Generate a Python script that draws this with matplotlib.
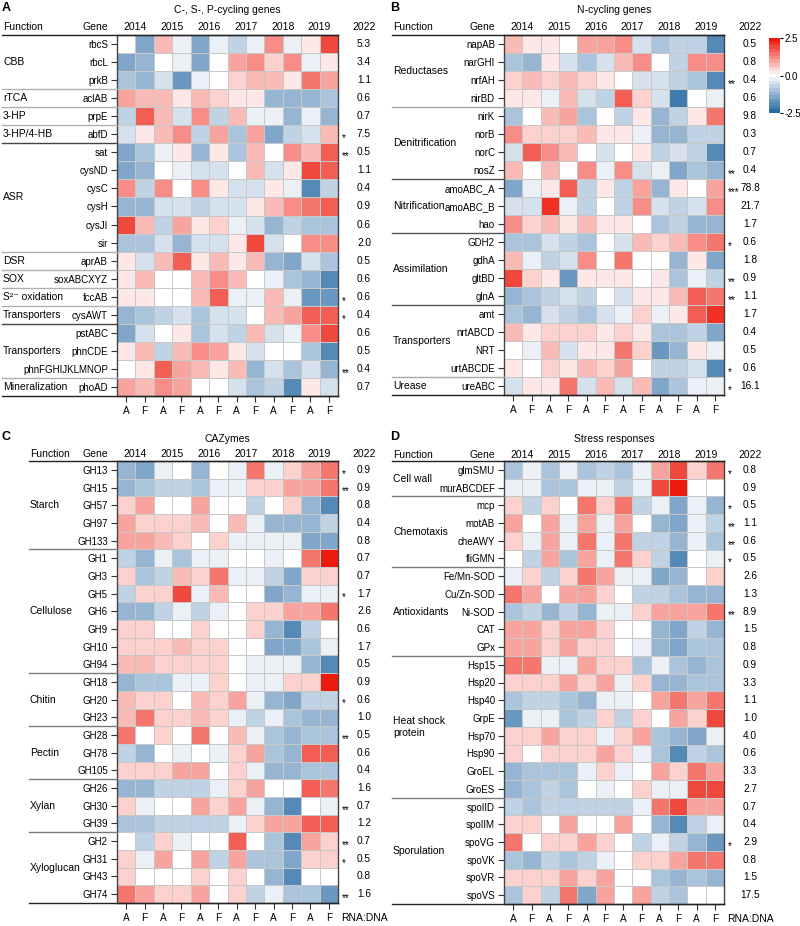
import numpy as np
import matplotlib.pyplot as plt
from matplotlib.colors import LinearSegmentedColormap, Normalize
from matplotlib.lines import Line2D
from matplotlib.transforms import blended_transform_factory

plt.rcParams['font.family'] = ['Liberation Sans', 'DejaVu Sans']

W, H = 800, 926
years = ['2014', '2015', '2016', '2017', '2018', '2019']
sites = ['A', 'F'] * 6

# ---- panel A: C-, S-, P-cycling genes
a_genes = ['rbcS', 'rbcL', 'prkB', 'aclAB', 'prpE', 'abfD', 'sat', 'cysND', 'cysC', 'cysH',
           'cysJI', 'sir', 'aprAB', 'soxABCXYZ', 'fccAB', 'cysAWT', 'pstABC', 'phnCDE',
           'phnFGHIJKLMNOP', 'phoAD']
a_funcs = [('CBB', 3), ('rTCA', 1), ('3-HP', 1), ('3-HP/4-HB', 1), ('ASR', 6), ('DSR', 1),
           ('SOX', 1), ('S²⁻ oxidation', 1), ('Transporters', 1), ('Transporters', 3),
           ('Mineralization', 1)]
a_major = [6, 16]
a_vals = [
    [0, -1.5, 0.6, -0.3, -1.4, -0.3, -0.8, -0.3, 1.2, -0.3, 0.3, 1.9],
    [-1.4, -1.2, 0, -0.3, -1.4, 0, 0.9, 1.2, 0.4, 1.2, -0.3, 0.3],
    [-0.9, -1.1, -0.5, -1.6, -0.3, 0, 0.4, 0.6, 0.6, 0.3, 1.5, 0.9],
    [0.9, 0.6, 0.6, 0.3, 0.8, 0.5, 0.3, 0.3, -1.1, -1.1, -1.1, -1.0],
    [-0.8, 1.6, 0.6, -0.5, 1.1, -0.7, 0.8, -0.3, -0.3, -1.1, -0.3, -1.3],
    [-0.5, 0.3, 0.6, 1.2, -0.7, 0.9, -1.0, 0.9, -1.4, -0.8, -0.5, 0.8],
    [-1.4, -1.0, -0.3, 0.3, -1.1, 0.3, -0.9, 0.6, 0, 1.2, 0.6, 1.6],
    [-1.4, -1.1, 0, -0.3, -0.5, -0.5, 0, 0.6, -0.5, 0.3, 1.9, 1.6],
    [1.2, -0.7, 1.2, 0, 1.1, 0.3, -0.5, -0.5, 0.3, -0.3, -1.8, -0.7],
    [-1.1, -1.1, -0.5, -0.5, -0.8, -0.5, -0.5, 0.3, 0.6, 1.1, 1.5, 1.6],
    [1.8, 0.8, -0.7, 1.0, 0.3, 0.5, -0.3, -0.5, -1.3, -0.7, -1.0, -1.0],
    [-0.9, -0.9, -0.5, -1.1, -0.5, -0.5, 0.3, 1.9, -0.5, 0, 1.2, 1.1],
    [0.3, -0.5, 0.6, 1.6, 0.3, 0.8, 0.3, 0.6, -1.1, -1.5, -0.5, -0.9],
    [0.3, 0.6, 0, 0, 0.8, 1.1, 0.6, 0, -0.3, -1.0, -1.2, -1.8],
    [0.3, 0.3, 0, 0, 0.6, 1.6, -0.3, -0.3, 0.6, -0.3, -1.6, -1.7],
    [-1.1, -0.9, -0.7, -0.5, -0.9, -0.5, -0.5, 0, 0.6, 0.9, 1.6, 1.6],
    [-1.4, -0.5, 0, 0.3, -0.9, -0.5, -0.8, 0.6, -0.5, -0.3, 1.2, 1.9],
    [0.3, 0.6, -0.7, 0.6, 1.1, 0.9, 0.3, -0.5, 0, 0, -0.9, -2.0],
    [0, 0.3, 1.6, 0.9, 0.6, 0.3, 0.6, -1.1, -0.5, -1.0, -0.5, -1.3],
    [0.9, 0.6, 1.2, 0.9, 0, 0, -0.5, -0.9, -0.8, -2.0, 0.3, -0.5],
]
a_ratio = ['5.3', '3.4', '1.1', '0.6', '0.7', '7.5', '0.5', '1.1', '0.4', '0.9',
           '0.6', '2.0', '0.5', '0.6', '0.6', '0.4', '0.6', '0.5', '0.4', '0.7']
a_stars = ['', '', '', '', '', '*', '**', '', '', '', '', '', '', '', '*', '*', '', '', '**', '']

# ---- panel B: N-cycling genes
b_genes = ['napAB', 'narGHI', 'nrfAH', 'nirBD', 'nirK', 'norB', 'norC', 'nosZ', 'amoABC_A',
           'amoABC_B', 'hao', 'GDH2', 'gdhA', 'gltBD', 'glnA', 'amt', 'nrtABCD', 'NRT',
           'urtABCDE', 'ureABC']
b_funcs = [('Reductases', 4), ('Denitrification', 4), ('Nitrification', 3),
           ('Assimilation', 4), ('Transporters', 4), ('Urease', 1)]
b_major = [8, 11, 15]
b_vals = [
    [0.6, 0.3, 0.3, 0, 0.9, 0.9, 1.1, -0.5, -0.9, -0.7, -0.7, -2.0],
    [-0.9, -1.2, 0.3, -0.5, -1.0, -0.5, 0.8, 1.1, 0, -0.6, 1.2, 1.1],
    [0.5, 0.8, 0.5, 0.8, 0.5, 0.3, 0, -0.5, -0.5, -0.7, -0.9, -2.0],
    [0.3, 0.3, -0.3, 0.8, -0.5, -0.7, 1.6, 0.5, -0.5, -2.2, 0, -0.3],
    [-1.0, 0, 0.8, 1.0, -0.9, 0, -0.6, 0.3, -1.3, -0.6, 0.3, 1.5],
    [1.2, 0.5, 0.5, 0.5, 0.8, 0.3, 0.3, -0.3, -1.3, -1.2, -0.8, -0.8],
    [-0.5, 1.6, 1.1, 0.8, 0, -0.5, 0, 0.3, -0.7, -0.5, -0.7, -1.8],
    [0.8, 0, 0.8, 0, 1.1, -0.3, 1.1, -0.5, -0.3, -1.5, -0.9, -1.1],
    [-1.4, -0.3, 0.3, 1.6, -0.8, 0.3, -0.8, 0.9, -1.1, 0.3, 0, 0.9],
    [-0.5, -0.5, 2.2, -0.3, -0.7, 0, -0.7, 1.1, -0.5, -0.8, -0.5, 1.1],
    [1.1, 0.5, 0.8, 0.3, 0.8, 0.3, 0.3, 0, -1.0, -0.7, -1.2, -1.2],
    [-1.0, -1.0, -0.5, -0.6, -1.0, 0, -0.5, 0.8, 0.5, 0.8, 1.1, 1.5],
    [0.8, -0.3, -0.6, -0.5, 1.1, 0, 1.5, 0, 0, -1.2, 0.3, -1.4],
    [1.9, 0.5, 0.3, -1.7, 0.3, 0.3, 0.3, 0, 0.3, -1.0, -0.3, -0.8],
    [-1.3, -1.0, -0.6, -0.5, -0.6, 0, -0.5, 0.3, 0.3, 0.8, 1.6, 1.5],
    [-0.9, -1.1, -0.5, -0.6, -0.9, -0.5, -0.3, 0.5, -0.3, 0.3, 1.6, 2.2],
    [0.8, 0.3, 0.5, 0.5, 0.5, 0.3, 0.5, 0.3, -0.9, -0.9, -0.7, -1.5],
    [0, -0.3, 0.8, -0.5, 0.3, 0.3, 1.5, 0.5, -1.6, -1.2, 0.3, -0.3],
    [0.3, 0, 0.5, 0.3, 0.8, 0.5, 1.0, 0, -0.7, -0.8, -0.5, -2.0],
    [-0.5, 0.3, 0.3, 1.5, -0.5, 0.8, -0.5, 0.8, -1.4, -1.0, -0.3, -0.3],
]
b_ratio = ['0.5', '0.8', '0.4', '0.6', '9.8', '0.3', '0.7', '0.4', '78.8', '21.7',
           '1.7', '0.6', '1.8', '0.9', '1.1', '1.7', '0.4', '0.5', '0.6', '16.1']
b_stars = ['', '', '**', '', '', '', '', '**', '***', '', '', '*', '', '**', '**', '', '', '', '*', '*']

# ---- panel C: CAZymes
c_genes = ['GH13', 'GH15', 'GH57', 'GH97', 'GH133', 'GH1', 'GH3', 'GH5', 'GH6', 'GH9', 'GH10',
           'GH94', 'GH18', 'GH20', 'GH23', 'GH28', 'GH78', 'GH105', 'GH26', 'GH30', 'GH39',
           'GH2', 'GH31', 'GH43', 'GH74']
c_funcs = [('Starch', 5), ('Cellulose', 7), ('Chitin', 3), ('Pectin', 3), ('Xylan', 3),
           ('Xyloglucan', 4)]
c_vals = [
    [-1.3, -1.4, -0.3, 0, -1.3, 0, -0.3, 1.5, -0.3, 0.5, 1.0, 1.5],
    [-1.3, -1.0, -0.6, -0.6, -0.9, -0.3, -0.3, 0.5, 0.5, 0.9, 1.0, 1.5],
    [0.5, 0.9, 0, 0, 0.9, 0, 0, -0.6, 0, 0.5, -1.2, -2.0],
    [0.9, 0.5, 0.5, 0.5, 0.8, 0, 0.8, -0.3, -1.2, -1.2, -1.2, -0.6],
    [0.9, 0.9, 0.8, 0.5, 0, 0.5, -0.3, -0.3, -0.3, -0.3, -1.5, -1.5],
    [-0.6, -1.3, -0.3, -0.9, -0.3, -0.3, 0, 0, -0.3, 0, 1.5, 2.5],
    [0.5, -0.9, -0.6, 0.8, 0.5, 1.5, -0.3, -0.3, -0.6, -1.5, 0.5, 0.5],
    [-0.6, 0.5, 0.5, 1.9, -0.3, 0.8, 0, 0, -1.5, -1.2, -0.3, -0.3],
    [-1.3, -1.3, -0.6, -0.3, -0.6, -0.3, 0, 0.5, 0.5, 0.9, 1.0, 1.5],
    [0.5, 0.5, 0, 0, 0.5, 0, 0, 0.5, -1.2, -2.0, -0.6, 0],
    [0.5, 0.5, 0.5, 0.8, 0.5, 0.5, 0, 0, -1.5, -1.4, -0.9, -0.3],
    [0.8, 0.8, 0.5, 0.5, 0.5, 0.5, 0, -0.3, -0.3, -0.3, -1.2, -2.0],
    [-1.2, -0.9, -0.9, -0.3, -0.3, 0.5, 0, -0.3, -0.3, 0.5, 0.5, 2.5],
    [0.8, 0.5, 0.5, 0, 0.8, 0.5, 0.9, -0.3, -1.2, -1.5, -0.6, -0.6],
    [0.8, 1.5, 0.5, 0.5, 0.8, 0.5, -0.3, -0.6, -0.3, -0.9, -1.3, -1.2],
    [1.5, 0, 0.5, 0, 1.5, 0, 0.8, -0.3, -0.9, -1.2, -0.9, -0.9],
    [-0.6, -1.3, 0, -0.3, 0, -0.3, 0.5, 0.9, -0.9, -1.2, 1.6, 1.6],
    [0.5, 0.5, 0.5, 0.9, 0.9, 0, 0.5, -0.3, -1.3, -1.2, -0.9, -0.9],
    [-1.3, -1.3, -0.6, -0.6, -0.6, -0.3, 0.5, 0.9, 0, 0, 1.6, 1.5],
    [0.5, -0.3, 0, 0, 0.9, 0.5, 0.9, -0.3, -1.2, -2.0, 0, -0.3],
    [-0.9, -0.9, -0.6, -0.6, -0.8, -0.6, -0.3, 0.5, 0.9, 0.9, 1.6, 1.6],
    [0, -0.6, 0.5, -0.3, 0, 0, 1.6, 0, -0.9, -2.0, 0.9, 0.5],
    [0.5, -0.3, 0.9, 0, 0.9, -0.6, 0.9, -0.9, -0.9, -1.4, 0.5, 0.5],
    [0.5, 0, 0, 0, 0.5, 0, 0.5, 0, -1.2, -2.0, 0, 0],
    [1.5, 0.9, 0.5, 0.5, 0.9, 0, 0.5, -0.6, -0.3, -0.9, -0.9, -1.6],
]
c_ratio = ['0.9', '0.9', '0.8', '0.4', '0.8', '0.7', '0.7', '1.7', '2.6', '0.6', '1.7', '0.5',
           '0.9', '0.6', '1.0', '0.5', '0.6', '0.4', '1.6', '0.7', '1.2', '0.7', '0.5', '0.8', '1.6']
c_stars = ['*', '**', '', '', '', '', '', '*', '', '', '', '', '', '*', '', '**', '', '',
           '', '**', '', '**', '*', '', '**']

# ---- panel D: stress responses
d_genes = ['glmSMU', 'murABCDEF', 'mcp', 'motAB', 'cheAWY', 'fliGMN', 'Fe/Mn-SOD', 'Cu/Zn-SOD',
           'Ni-SOD', 'CAT', 'GPx', 'Hsp15', 'Hsp20', 'Hsp40', 'GrpE', 'Hsp70', 'Hsp90', 'GroEL',
           'GroES', 'spoIID', 'spoIIM', 'spoVG', 'spoVK', 'spoVR', 'spoVS']
d_funcs = [('Cell wall', 2), ('Chemotaxis', 4), ('Antioxidants', 5),
           ('Heat shock\nprotein', 8), ('Sporulation', 6)]
d_vals = [
    [-1.0, -0.3, -1.0, -0.3, -0.9, -0.6, -0.9, -0.3, 0.9, 1.9, 0.5, 1.5],
    [-0.3, -0.3, -0.9, -0.9, -0.3, -0.3, -0.6, -0.3, 1.9, 2.5, 0, 0],
    [0.5, -0.6, 0.5, 0, 1.4, 0.5, 1.4, -0.6, -0.3, -1.5, -0.3, -1.2],
    [0.9, 0, 0.9, -0.3, 0.9, -0.3, 0.9, 0, -1.2, -1.5, -0.3, -0.6],
    [0.5, -0.3, 0.9, -0.3, 1.4, -0.3, 1.4, -0.6, -0.6, -1.2, -0.3, -0.9],
    [0, -0.6, 0.9, -0.9, 0.9, -0.3, 1.4, 0.5, -0.6, -2.0, 0, -0.3],
    [-0.3, 0.5, -0.6, 0.5, 1.4, 0.9, -0.3, -0.3, -1.5, -1.2, 0, 0.5],
    [1.4, 0.9, 0, 0.9, 0.9, 0.5, 0, -0.6, -0.6, -0.9, -1.2, -1.2],
    [-0.9, -0.6, -1.2, -0.6, -1.2, -0.3, -0.3, 0.5, 0.9, 0.9, 0.9, 1.4],
    [0.9, 0.9, 0.5, 0.9, 0.9, 0.5, 0, 0, -1.3, -1.5, -0.6, -1.2],
    [0.9, 0.9, 0.5, 0.9, 0.5, 0.5, 0, -0.3, -1.3, -1.5, -0.9, -0.9],
    [1.4, 1.4, -0.3, -0.3, 0.9, 0.5, 0.5, -0.9, -0.3, -0.9, -1.2, -0.9],
    [0.5, 0.5, 0.5, 0.9, 0.5, 0.9, -0.3, 0.5, -1.3, -1.2, -0.9, -0.9],
    [-0.9, -0.6, -0.6, -0.9, -1.2, -0.3, -0.3, 0, 0.9, 1.4, 0.9, 1.4],
    [-1.6, -0.3, -0.3, -0.9, -0.6, 0.5, -0.6, 0.5, 0, 0.9, 0.5, 1.9],
    [0.5, 0.5, 0.9, 0.5, 0.5, -0.3, 0.5, 0.9, -0.9, -1.2, -1.5, -0.3],
    [0.5, 0, 0.5, 0.5, 0.5, 0.9, 0.5, -0.3, -0.9, -2.0, -0.6, -0.9],
    [-1.3, -0.9, -0.9, -0.9, -0.3, 0.5, -0.3, 0, 0.9, 0.5, 1.4, 0.9],
    [-1.3, -0.9, -0.6, -0.9, 0, -0.3, 0, 0.5, -0.3, -0.3, 1.9, 1.9],
    [-0.6, -0.9, -0.6, -0.6, -0.6, -0.6, -0.6, -0.3, 1.4, 1.9, 0.9, 0.9],
    [0.5, 0.5, 0, 0.9, 0, 0, 0.9, 0, -1.3, -2.0, -0.6, -0.3],
    [1.5, 0, 0.5, 0.5, 0.9, 0.5, 0, -0.6, -0.3, -0.6, -1.3, -1.6],
    [-0.9, -1.3, -0.6, -0.9, -0.6, -0.3, 0, 0.5, 0.5, 0.9, 1.4, 1.4],
    [0.5, 0.5, 0.5, 0.9, 0.5, 0.9, 0, 0, -0.9, -1.2, -0.9, -1.2],
    [-0.9, 0.5, -0.6, 1.4, -1.5, 0.9, 0, 0.9, -0.6, -0.9, 0, 0],
]
d_ratio = ['0.8', '0.9', '0.5', '1.1', '0.6', '0.5', '2.6', '1.3', '8.9', '1.5', '0.8', '0.9',
           '3.3', '1.1', '1.0', '4.0', '0.6', '3.3', '2.7', '0.7', '0.4', '2.9', '0.8', '1.5', '17.5']
d_stars = ['*', '', '*', '**', '**', '*', '', '', '**', '', '', '', '', '', '', '', '', '', '',
           '', '', '*', '', '', '']

cmap = LinearSegmentedColormap.from_list('rwb', ['#2b6ca5', '#ffffff', '#ee1a0c'], N=21)
norm = Normalize(-2.5, 2.5)

fig = plt.figure(figsize=(W / 100, H / 100), dpi=100)


def fx(x):
    return x / W


def fy(y):
    return 1 - y / H


def hline(x0, x1, y, color, lw=1.0):
    fig.add_artist(Line2D([fx(x0), fx(x1)], [fy(y), fy(y)], transform=fig.transFigure,
                          color=color, lw=lw))


def draw_panel(letter, title, box, left0, genes, funcs, vals, ratio, stars, major,
               minor_col, major_col, title_y, head_y, bottom_label):
    x0, x1, y0, y1 = box
    n = len(genes)
    rowh = (y1 - y0) / n
    ax = fig.add_axes([fx(x0), fy(y1), (x1 - x0) / W, (y1 - y0) / H])
    mesh = ax.pcolormesh(np.arange(13), np.arange(n + 1), np.array(vals), cmap=cmap, norm=norm,
                         edgecolors='#c8c8c8', linewidth=0.6)
    ax.set_xlim(0, 12)
    ax.set_ylim(n, 0)
    ax.set_yticks(np.arange(n) + 0.5)
    ax.set_yticklabels(genes, fontsize=7)
    ax.set_xticks(np.arange(12) + 0.5)
    ax.set_xticklabels(sites, fontsize=7.3)
    ax.tick_params(axis='y', length=4, width=0.8, pad=2.5, color='#333333')
    ax.tick_params(axis='x', length=4, width=0.8, pad=3, color='#333333')
    for s in ax.spines.values():
        s.set_color('#444444')
        s.set_linewidth(1.0)

    # letter, title and header row
    lx = 2 if letter in 'AC' else 390
    fig.text(fx(lx), fy(title_y - 2), letter, fontsize=9, fontweight='bold',
             ha='left', va='center')
    fig.text(fx((x0 + x1) / 2), fy(title_y), title, fontsize=7.5, ha='center', va='center')
    fig.text(fx(left0 + 1), fy(head_y), 'Function', fontsize=7.5, ha='left', va='center')
    fig.text(fx(x0 - 9), fy(head_y), 'Gene', fontsize=7.5, ha='right', va='center')
    colw = (x1 - x0) / 12
    for i, yr in enumerate(years):
        fig.text(fx(x0 + colw * (2 * i + 1)), fy(head_y), yr, fontsize=7.5,
                 ha='center', va='center')
    num_x = x1 + 26
    fig.text(fx(num_x), fy(head_y), '2022', fontsize=7.5, ha='center', va='center')
    if bottom_label:
        fig.text(fx(num_x), fy(y1 + 15), 'RNA:DNA', fontsize=7.5, ha='center', va='center')

    tr = blended_transform_factory(fig.transFigure, ax.transData)
    for i in range(n):
        ax.text(fx(num_x), i + 0.5, ratio[i], transform=tr, fontsize=7.3, ha='center',
                va='center', clip_on=False)
        if stars[i]:
            ax.text(fx(x1 + 4), i + 0.72, stars[i], transform=tr, fontsize=7.3, ha='left',
                    va='center', clip_on=False)

    # function labels and separators
    start = 0
    for name, cnt in funcs:
        ax.text(fx(left0 + 1), start + cnt / 2, name, transform=tr, fontsize=7.5, ha='left',
                va='center', clip_on=False, linespacing=1.3)
        start += cnt
        if start < n:
            col = major_col if start in major else minor_col
            hline(left0, x0, y0 + start * rowh, col, lw=1.0)
    hline(left0, x1, y0, '#222222', lw=1.0)
    hline(left0, x1, y1, '#222222', lw=1.0)
    return mesh


mesh = draw_panel('A', 'C-, S-, P-cycling genes', (117, 338, 35, 396), 2, a_genes, a_funcs,
                  a_vals, a_ratio, a_stars, a_major, '#b0b0b0', '#444444', 10, 27, False)
draw_panel('B', 'N-cycling genes', (504, 724, 35, 395), 392, b_genes, b_funcs, b_vals, b_ratio,
           b_stars, b_major, '#a8a8a8', '#555555', 10, 27, False)
draw_panel('C', 'CAZymes', (117, 338, 461, 903), 29, c_genes, c_funcs, c_vals, c_ratio,
           c_stars, [], '#7a7a7a', '#7a7a7a', 439, 454, True)
draw_panel('D', 'Stress responses', (504, 724, 461, 904), 392, d_genes, d_funcs, d_vals, d_ratio,
           d_stars, [], '#7a7a7a', '#7a7a7a', 439, 455, True)

cax = fig.add_axes([fx(769), fy(113), 11 / W, 75 / H])
cb = fig.colorbar(mesh, cax=cax, ticks=[-2.5, 0, 2.5])
cb.ax.set_yticklabels(['-2.5', '0.0', '2.5'], fontsize=7)
cb.ax.tick_params(length=2, width=0.8, pad=1)
cb.outline.set_visible(False)

fig.savefig('out.png', dpi=100)
